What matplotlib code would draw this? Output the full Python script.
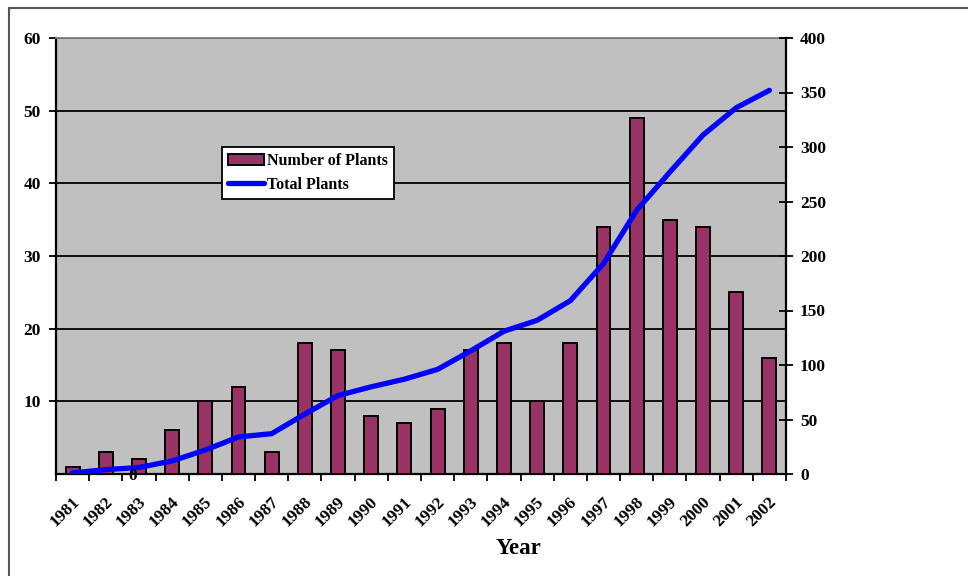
import matplotlib
matplotlib.use("Agg")
import matplotlib.pyplot as plt
from matplotlib.patches import Rectangle
import matplotlib.transforms as mtransforms

years = [str(y) for y in range(1981, 2003)]
new_plants = [1, 3, 2, 6, 10, 12, 3, 18, 17, 8, 7, 9, 17, 18, 10, 18, 34, 49, 35, 34, 25, 16]
total_plants = [1, 4, 6, 12, 22, 34, 37, 55, 72, 80, 87, 96, 113, 131, 141, 159, 193, 242, 277, 311, 336, 352]

left_ticks = [10, 20, 30, 40, 50, 60]
right_ticks = [0, 50, 100, 150, 200, 250, 300, 350, 400]

plt.rcParams["font.family"] = ["Liberation Serif", "DejaVu Serif"]
plt.rcParams["font.weight"] = "bold"

W, H = 968, 576
fig = plt.figure(figsize=(W / 100, H / 100), dpi=100)

# outer chart border
fig.patches.append(Rectangle((9 / W, -0.05), 1.2, 1 - 8 / H + 0.05,
                             transform=fig.transFigure, fill=False,
                             edgecolor="#555555", linewidth=1.5))

ax = fig.add_axes([56 / W, 1 - 474 / H, 730 / W, 436 / H])
ax.set_facecolor("#C0C0C0")

x = list(range(len(years)))
ax.bar(x, new_plants, width=0.42, color="#993366", edgecolor="black",
       linewidth=1.4, zorder=3, label="Number of Plants")
ax.set_xlim(-0.5, len(years) - 0.5)
ax.set_ylim(0, 60)
ax.set_yticks(left_ticks)
ax.set_yticklabels([str(v) for v in left_ticks], fontsize=12.5, fontweight="bold")
ax.yaxis.grid(True, color="black", linewidth=1.3, zorder=1)
ax.set_axisbelow(True)
ax.tick_params(axis="y", direction="out", length=5, width=1.3, pad=6)

ax.set_xticks([i - 0.5 for i in x] + [len(years) - 0.5])
ax.set_xticklabels([])
ax.tick_params(axis="x", direction="out", length=5, width=1.3)
offset = mtransforms.ScaledTranslation(-1 / 100, -20 / 100, fig.dpi_scale_trans)
for i, yr in enumerate(years):
    ax.text(i, 0, yr, rotation=45, ha="right", va="top", rotation_mode="anchor",
            fontsize=12.5, fontweight="bold",
            transform=mtransforms.blended_transform_factory(ax.transData, ax.transAxes) + offset)

for side in ["left", "bottom"]:
    ax.spines[side].set_color("black")
    ax.spines[side].set_linewidth(1.6)
for side in ["top", "right"]:
    ax.spines[side].set_color("#808080")
    ax.spines[side].set_linewidth(1.3)

ax2 = ax.twinx()
line, = ax2.plot(x, total_plants, color="#0000FF", linewidth=3.8,
                 solid_capstyle="round", solid_joinstyle="round", zorder=4,
                 label="Total Plants")
ax2.set_ylim(0, 400)
ax2.set_yticks(right_ticks)
ax2.set_yticklabels([str(v) for v in right_ticks], fontsize=12.5, fontweight="bold")
ax2.tick_params(axis="y", direction="inout", length=10, width=1.3, pad=5)
ax2.spines["right"].set_color("black")
ax2.spines["right"].set_linewidth(1.6)
for side in ["top", "left", "bottom"]:
    ax2.spines[side].set_visible(False)

# zero label for the left axis
fig.text(133 / W, 1 - 476 / H, "0", ha="center", va="center",
         fontsize=12.5, fontweight="bold")

fig.text(519 / W, 1 - 548 / H, "Year", ha="center", va="center",
         fontsize=16.5, fontweight="bold")

handles = [ax.containers[0], line]
leg = ax2.legend(handles, ["Number of Plants", "Total Plants"],
                 loc="upper left", bbox_to_anchor=(166 / 730, (474 - 147) / 436),
                 borderaxespad=0, fancybox=False, framealpha=1, edgecolor="black",
                 prop={"size": 11.5, "weight": "bold"}, handlelength=2.2,
                 handletextpad=0.2, borderpad=0.4, labelspacing=0.45)
leg.get_frame().set_linewidth(1.3)

fig.savefig("out.png", dpi=100)
